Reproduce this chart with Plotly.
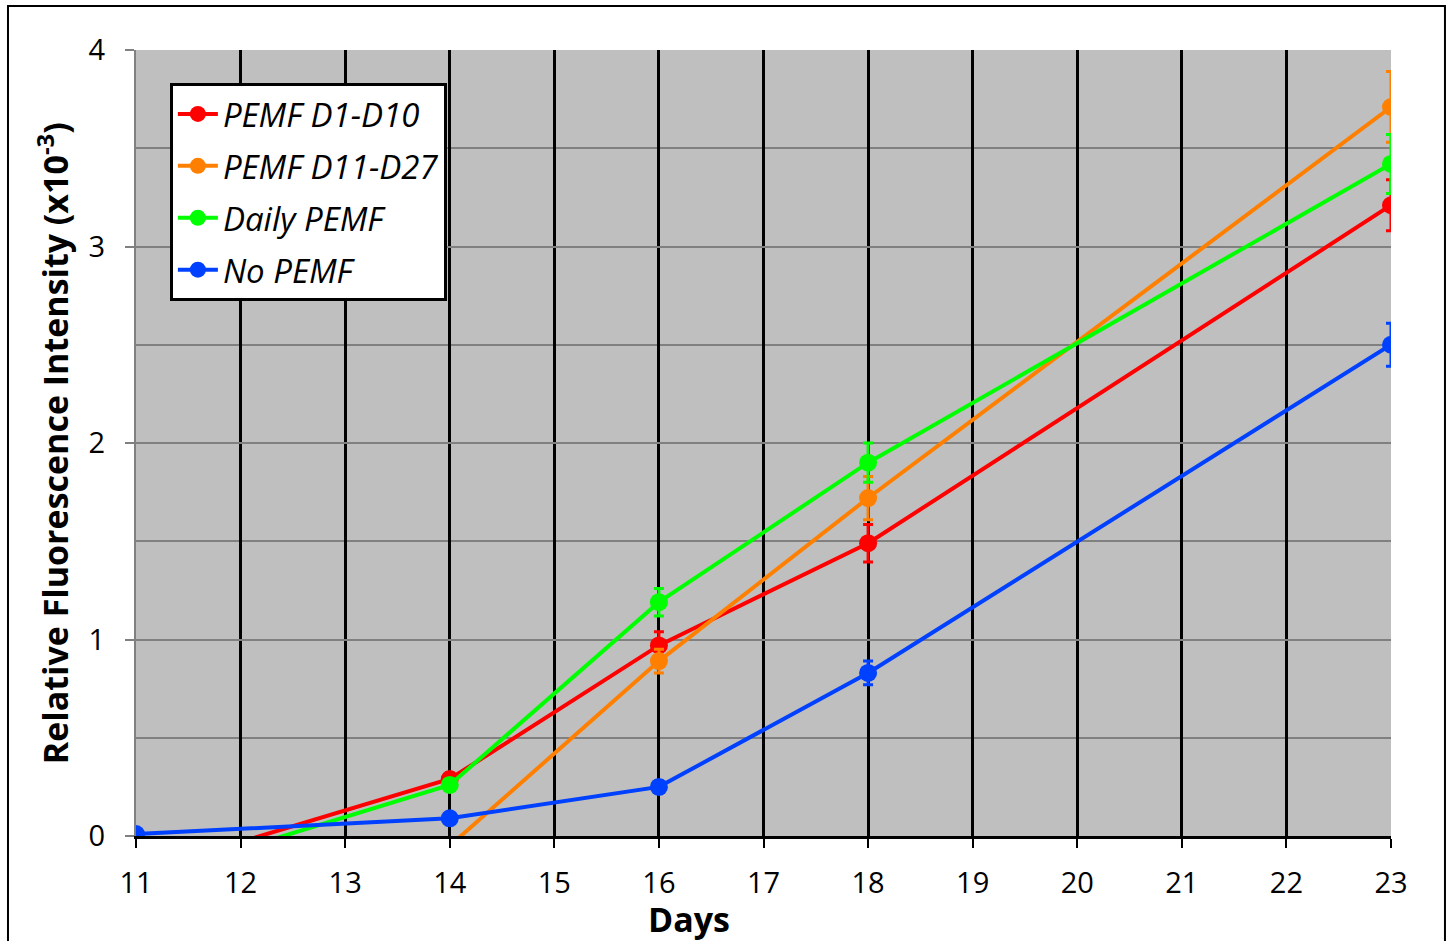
import plotly.graph_objects as go

days = [11, 14, 16, 18, 23]
series_names = ["PEMF D1-D10", "PEMF D11-D27", "Daily PEMF", "No PEMF"]
red_vals = [-0.19, 0.29, 0.97, 1.49, 3.21]
red_err = [0.0, 0.03, 0.07, 0.095, 0.13]
orange_vals = [-0.30, -0.05, 0.89, 1.72, 3.71]
orange_err = [0.0, 0.0, 0.06, 0.11, 0.18]
green_vals = [-0.23, 0.26, 1.19, 1.90, 3.42]
green_err = [0.0, 0.03, 0.07, 0.10, 0.15]
blue_vals = [0.01, 0.09, 0.25, 0.83, 2.50]
blue_err = [0.01, 0.02, 0.03, 0.06, 0.11]
x_ticks = list(range(11, 24))
y_ticks = [0, 1, 2, 3, 4]

colors = ["#FF0000", "#FF8000", "#00FF00", "#0040FF"]
values = [red_vals, orange_vals, green_vals, blue_vals]
errors = [red_err, orange_err, green_err, blue_err]

FONT = "Open Sans"
fig = go.Figure()
for name, vals, errs, col in zip(series_names, values, errors, colors):
    fig.add_trace(go.Scatter(
        x=days, y=vals, name=name, legendgroup=name, mode="lines+markers",
        line=dict(color=col, width=4),
        marker=dict(color=col, size=18, line=dict(width=0)),
        error_y=dict(type="data", array=errs, visible=True, color=col,
                     thickness=3, width=5),
        cliponaxis=True,
    ))

fig.update_layout(
    width=1448, height=941,
    margin=dict(l=136, r=57, t=50, b=105),
    paper_bgcolor="white",
    plot_bgcolor="#BFBFBF",
    font=dict(family=FONT, size=29, color="black"),
    showlegend=True,
    legend=dict(
        x=0.027, y=0.958, xanchor="left", yanchor="top",
        bgcolor="white", bordercolor="black", borderwidth=3,
        font=dict(family=FONT, size=33, color="black", style="italic"),
        tracegroupgap=6, itemwidth=40,
    ),
    xaxis=dict(
        range=[11, 23], tickvals=x_ticks, ticktext=[str(t) for t in x_ticks],
        showgrid=True, gridcolor="black", gridwidth=2.5,
        showline=True, linecolor="black", linewidth=2.5,
        ticks="outside", ticklen=9, tickwidth=2, tickcolor="black",
        tickfont=dict(family=FONT, size=29),
        ticklabelstandoff=10,
        zeroline=False,
    ),
    yaxis=dict(
        range=[0, 4], tickvals=y_ticks, ticktext=[str(t) for t in y_ticks],
        showgrid=True, gridcolor="#808080", gridwidth=1.5,
        minor=dict(dtick=0.5, showgrid=True, gridcolor="#808080", gridwidth=1.5),
        showline=True, linecolor="#808080", linewidth=2,
        ticks="outside", ticklen=9, tickwidth=1.5, tickcolor="#808080",
        tickfont=dict(family=FONT, size=29),
        ticklabelstandoff=14,
        zeroline=False,
    ),
    annotations=[
        dict(text="<b>Days</b>", xref="paper", yref="paper", x=0.4406, y=-0.106,
             xanchor="center", yanchor="middle", showarrow=False,
             font=dict(family=FONT, size=34, color="black")),
        dict(text="<b>Relative Fluorescence Intensity (x10<sup>-3</sup>)</b>",
             xref="paper", yref="paper", x=-0.066, y=0.5, textangle=-90,
             xanchor="center", yanchor="middle", showarrow=False,
             font=dict(family=FONT, size=34, color="black")),
    ],
    shapes=[dict(type="rect", xref="paper", yref="paper",
                 x0=-0.102, x1=1.043, y0=-0.2, y1=1.056,
                 line=dict(color="black", width=2), fillcolor="rgba(0,0,0,0)",
                 layer="below")],
)

fig.write_html("out.html")
